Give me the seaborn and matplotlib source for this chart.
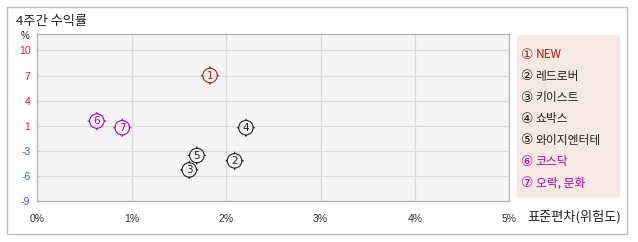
import numpy as np
import pandas as pd
import matplotlib
matplotlib.use("Agg")
import matplotlib.pyplot as plt
from matplotlib.path import Path
from matplotlib.patches import Rectangle, FancyBboxPatch
import seaborn as sns

# ---------------- data ----------------
names = ["NEW", "레드로버", "키이스트", "쇼박스", "와이지엔터테", "코스닥", "오락, 문화"]
std_dev = [1.83, 2.09, 1.61, 2.21, 1.69, 0.63, 0.90]      # 표준편차 (%)
returns = [6.83, -3.93, -5.08, 0.25, -3.26, 1.08, 0.25]   # 4주간 수익률 (%)
x_tick_labels = ["0%", "1%", "2%", "3%", "4%", "5%"]
y_tick_labels = ["-9", "-6", "-3", "1", "4", "7", "10"]
title = "4주간 수익률"
x_title = "표준편차(위험도)"
y_unit = "%"

# ---------------- style ----------------
W, H = 638, 242
colors = ["#a8201a", "#222222", "#222222", "#222222", "#222222", "#b000c0", "#b000c0"]
palette = dict(zip(names, colors))
FONT = ["Noto Sans CJK KR", "DejaVu Sans"]
plt.rcParams["font.family"] = FONT

fig = plt.figure(figsize=(W / 100, H / 100), dpi=100)
fig.patch.set_facecolor("white")

def fx(x):
    return x / W

def fy(y):
    return 1 - y / H

# outer border
fig.patches.append(Rectangle((fx(7), fy(234)), fx(620), (234 - 7) / H,
                             transform=fig.transFigure, fill=False,
                             edgecolor="#bdbdbd", linewidth=1.0))

ax_l, ax_r, ax_t, ax_b = 37.3, 509.3, 34, 201
ax = fig.add_axes([fx(ax_l), fy(ax_b), (ax_r - ax_l) / W, (ax_b - ax_t) / H])
ax.set_facecolor("#f5f5f5")

df = pd.DataFrame({"name": names, "std": std_dev, "ret": returns})

# circle marker with small cardinal ticks
circle = Path.unit_circle()
tick_paths = [Path([[0, 1], [0, 1.25]], [Path.MOVETO, Path.LINETO]),
              Path([[0, -1], [0, -1.25]], [Path.MOVETO, Path.LINETO]),
              Path([[1, 0], [1.25, 0]], [Path.MOVETO, Path.LINETO]),
              Path([[-1, 0], [-1.25, 0]], [Path.MOVETO, Path.LINETO])]
marker_path = Path.make_compound_path(circle, *tick_paths)

sns.scatterplot(data=df, x="std", y="ret", hue="name", palette=palette,
                marker=marker_path, s=170, linewidth=0.8, legend=False, ax=ax,
                zorder=3)
coll = ax.collections[0]
coll.set_edgecolors([palette[n] for n in names])
coll.set_facecolors("none")

for i, (xv, yv) in enumerate(zip(std_dev, returns)):
    ax.text(xv, yv, str(i + 1), ha="center", va="center", fontsize=7.5,
            color=colors[i], family="DejaVu Sans", zorder=4)

ax.set_xlim(0, 5)
ax.set_ylim(-9, 12.07)
ax.set_xticks(np.arange(0, 6))
ax.set_xticklabels(x_tick_labels)
ytick_pos = np.linspace(-9, 10, len(y_tick_labels))
ax.set_yticks(ytick_pos)
ax.set_yticklabels(y_tick_labels)
ax.tick_params(axis="both", length=0)
ax.tick_params(axis="x", pad=9, labelsize=7.5, labelcolor="#333333")
ax.tick_params(axis="y", pad=5, labelsize=7.5)
for lab in ax.get_xticklabels() + ax.get_yticklabels():
    lab.set_family(["Liberation Sans", "DejaVu Sans"])
for lab in ax.get_yticklabels():
    lab.set_color("#ff1010" if float(lab.get_text()) > 0 else "#3a55ff")

ax.grid(True, color="#d9d9d9", linewidth=0.9)
ax.set_axisbelow(True)
for sp in ax.spines.values():
    sp.set_color("#b4b4b4")
    sp.set_linewidth(0.9)
ax.set_xlabel("")
ax.set_ylabel("")

# texts
fig.text(fx(16), fy(21), title, fontsize=9.5, color="#222222", ha="left", va="center")
fig.text(fx(25), fy(36), y_unit, fontsize=7, color="#222222", ha="center", va="center",
         family=["Liberation Sans", "DejaVu Sans"])
fig.text(fx(527), fy(216.5), x_title, fontsize=9.5, color="#222222", ha="left", va="center")

# legend panel
fig.patches.append(FancyBboxPatch((fx(520), fy(197)), fx(97), (197 - 36) / H,
                                  boxstyle="round,pad=0.005,rounding_size=0.012",
                                  transform=fig.transFigure,
                                  facecolor="#f6e9e2", edgecolor="none"))
leg_y0, leg_dy = 55, 21.3
for i, n in enumerate(names):
    yy = fy(leg_y0 + i * leg_dy)
    fig.text(fx(527.5), yy, chr(0x2460 + i), fontsize=10, color=colors[i],
             ha="center", va="center", family=["DejaVu Sans"])
    fig.text(fx(535.5), yy, n, fontsize=8.5, color=colors[i], ha="left", va="center")

fig.savefig("out.png", dpi=100)
